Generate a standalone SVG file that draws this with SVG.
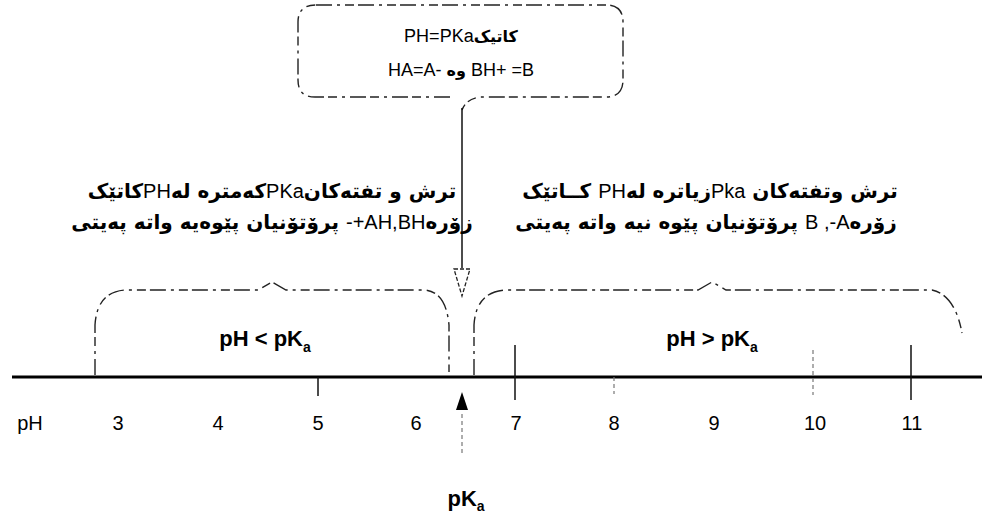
<svg xmlns="http://www.w3.org/2000/svg" width="990" height="524" viewBox="0 0 990 524">
<style>
.lat{font-family:"Liberation Sans","DejaVu Sans",Arial,sans-serif;fill:#000}
.kur{font-family:"DejaVu Sans",sans-serif;font-weight:bold;fill:#000}
.kl{font-family:"Liberation Sans",Arial,sans-serif;font-weight:normal}
.brk{fill:none;stroke:#222;stroke-width:1.4;stroke-dasharray:16 5 3 5 9 4}
.tick{stroke:#111;stroke-width:1.5}
.faint{stroke:#777;stroke-width:1.2;stroke-dasharray:4 3}
</style>
<rect width="990" height="524" fill="#fff"/>

<g id="callout">
<path class="brk" d="M316,5 L606,5 Q623,5 623,22 L623,80 Q623,97 606,97 L480,97 Q466,99 462,110 M450,97 L315,97 Q298,97 298,80 L298,22 Q298,5 316,5"/>
<text class="lat" x="461" y="42" font-size="18" text-anchor="middle">PH=PKa<tspan font-weight="bold" font-family="DejaVu Sans" font-size="16">کاتیک</tspan></text>
<text class="lat" x="461" y="76" font-size="18" text-anchor="middle">HA=A- <tspan font-weight="bold" font-family="DejaVu Sans" font-size="16">وە</tspan> BH+ =B</text>
</g>

<g id="connectors">
<line x1="462" y1="108" x2="462" y2="268" stroke="#111" stroke-width="1.5"/>
<polygon points="454,269 470,269 462,296" fill="#fff" stroke="#222" stroke-width="1.3" stroke-dasharray="4 2"/>
<polygon points="462,392 456,410 468,410" fill="#000"/>
<line x1="462" y1="414" x2="462" y2="456" class="faint" stroke="#333"/>
</g>

<g id="left-text">
<text class="kur" x="272" y="198" font-size="20" text-anchor="middle">کاتێک<tspan class="kl">PH</tspan>کەمترە لە<tspan class="kl">PKa</tspan>ترش و تفتەکان</text>
<text class="kur" x="272" y="229" font-size="20" text-anchor="middle">پرۆتۆنیان پێوەیە واتە پەیتی <tspan class="kl">-+AH,BH</tspan>زۆرە</text>
</g>

<g id="right-text">
<text class="kur" x="710" y="198" font-size="20" text-anchor="middle">کــاتێک <tspan class="kl">PH</tspan>زیاترە لە<tspan class="kl">Pka</tspan> ترش وتفتەکان</text>
<text class="kur" x="706" y="229" font-size="20" text-anchor="middle">پرۆتۆنیان پێوە نیە واتە پەیتی <tspan class="kl">B ,-A</tspan>زۆرە</text>
</g>

<g id="brace-left">
<path class="brk" d="M95,375 L95,325 Q97,292 125,290 L258,290 L272,282 L286,290 L425,290 Q446,292 449,325 L449,372"/>
<text class="lat" x="265" y="346" font-size="22" font-weight="bold" text-anchor="middle">pH &lt; pK<tspan font-size="14" dy="6">a</tspan></text>
</g>

<g id="brace-right">
<path class="brk" d="M474,375 L474,325 Q476,292 505,290 L698,290 L712,282 L726,290 L932,290 Q955,295 962,333"/>
<text class="lat" x="712" y="346" font-size="22" font-weight="bold" text-anchor="middle">pH &gt; pK<tspan font-size="14" dy="6">a</tspan></text>
</g>

<g id="axis">
<line x1="12" y1="377" x2="982" y2="377" stroke="#000" stroke-width="3.2"/>
<line class="tick" x1="318" y1="377" x2="318" y2="396"/>
<line class="tick" x1="515" y1="345" x2="515" y2="400"/>
<line class="faint" x1="614" y1="377" x2="614" y2="394"/>
<line class="faint" x1="813" y1="350" x2="813" y2="395"/>
<line class="tick" x1="911" y1="345" x2="911" y2="400"/>
<g class="lat" font-size="20" text-anchor="middle">
<text x="30" y="430">pH</text>
<text x="118" y="430">3</text>
<text x="218" y="430">4</text>
<text x="318" y="430">5</text>
<text x="416" y="430">6</text>
<text x="516" y="430">7</text>
<text x="614" y="430">8</text>
<text x="714" y="430">9</text>
<text x="815" y="430">10</text>
<text x="912" y="430">11</text>
</g>
</g>

<g id="pka-label">
<text class="lat" x="466" y="506" font-size="22" font-weight="bold" text-anchor="middle">pK<tspan font-size="14" dy="5">a</tspan></text>
</g>
</svg>
